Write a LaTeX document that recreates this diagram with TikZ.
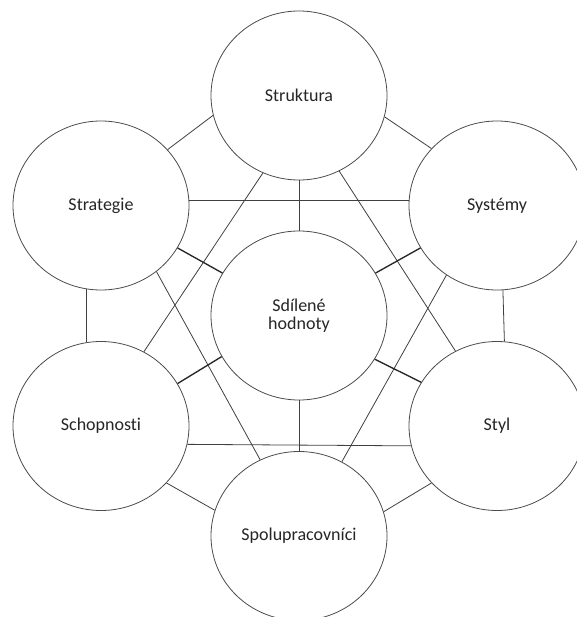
\documentclass[tikz,border=0pt]{standalone}
\usepackage{fontspec}
\setmainfont{Carlito}[Ligatures=NoCommon]
\usetikzlibrary{shapes.geometric}

\begin{document}
\begin{tikzpicture}[x=0.75pt, y=-0.75pt,
  ring/.style={draw=black!70, line width=0.6pt, ellipse, minimum width=132pt, minimum height=126.75pt, inner sep=0pt, font=\fontsize{13.5}{13.75}\selectfont, text=black!85, align=center},
  link/.style={draw=black!75, line width=0.6pt},
  bond/.style={draw=black!85, line width=1pt}]
\useasboundingbox (0,0) rectangle (577,617);
\fill[white] (0,0) rectangle (577,617);
\node[ring] (struktura) at (299,95.5) {Struktura};
\node[ring] (strategie) at (101,205.5) {Strategie};
\node[ring] (systemy) at (497,205.5) {Systémy};
\node[ring] (hodnoty) at (299,315.5) {Sdílené\\hodnoty};
\node[ring] (schopnosti) at (101,426) {Schopnosti};
\node[ring] (styl) at (497,426) {Styl};
\node[ring] (spolu) at (299,536) {Spolupracovníci};
\draw[link] (struktura.193) -- (strategie.40);
\draw[link] (struktura.346) -- (systemy.139);
\draw[link] (strategie.3.5) -- (systemy.177.3);
\draw[link] (struktura.south) -- (hodnoty.north);
\draw[link] (struktura.245) -- (schopnosti.60.5);
\draw[link] (struktura.298) -- (styl.119);
\draw[link] (strategie.310.5) -- (spolu.117.7);
\draw[link] (systemy.234.8) -- (spolu.60);
\draw[link] (strategie.260) -- (schopnosti.100);
\draw[link] (systemy.274.4) -- (styl.85.6);
\draw[link] (schopnosti.348.3) -- (styl.193.5);
\draw[link] (hodnoty.south) -- (spolu.north);
\draw[link] (schopnosti.319.5) -- (spolu.163.4);
\draw[link] (styl.221.3) -- (spolu.16.3);
\draw[bond] (strategie.331) -- (hodnoty.151);
\draw[bond] (systemy.209.5) -- (hodnoty.29.3);
\draw[bond] (schopnosti.29.5) -- (hodnoty.208.8);
\draw[bond] (styl.150.2) -- (hodnoty.330.7);
\end{tikzpicture}
\end{document}
